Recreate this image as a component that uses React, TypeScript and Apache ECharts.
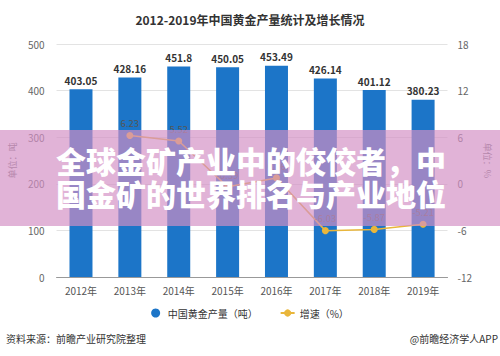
import React, { useEffect, useRef } from "react";
import * as echarts from "echarts";

const years = ["2012年", "2013年", "2014年", "2015年", "2016年", "2017年", "2018年", "2019年"];
const production = [403.05, 428.16, 451.8, 450.05, 453.49, 426.14, 401.12, 380.23];
const growth: (number | null)[] = [null, 6.23, 5.52, -0.39, 0.76, -6.03, -5.87, -5.21];

const titleText = "2012-2019年中国黄金产量统计及增长情况";
const seriesNames = ["中国黄金产量（吨）", "增速（%）"];
const bannerLines = ["全球金矿产业中的佼佼者，中", "国金矿的世界排名与产业地位"];
const sourceText = "资料来源：前瞻产业研究院整理";
const brandText = "@前瞻经济学人APP";

const FONT = "'Noto Sans CJK SC', 'Noto Sans', sans-serif";

export default function App() {
  const ref = useRef<HTMLDivElement>(null);
  useEffect(() => {
    if (!ref.current) return;
    const chart = echarts.init(ref.current, undefined, { renderer: "svg" });
    chart.setOption({
      animation: false,
      backgroundColor: "#ffffff",
      textStyle: { fontFamily: FONT },
      title: {
        text: titleText,
        left: "center",
        top: 8,
        textStyle: { fontSize: 12, fontWeight: "bold", color: "#333", fontFamily: FONT },
      },
      legend: {
        bottom: 33,
        left: "center",
        itemWidth: 14,
        itemHeight: 9,
        itemGap: 22,
        textStyle: { fontSize: 10, color: "#333", fontFamily: FONT },
        data: [
          { name: seriesNames[0], icon: "circle" },
          { name: seriesNames[1] },
        ],
      },
      grid: { left: 52, right: 46, top: 44, bottom: 79 },
      xAxis: {
        type: "category",
        data: years,
        axisLine: { lineStyle: { color: "#999" } },
        axisTick: { alignWithLabel: true, length: 3, lineStyle: { color: "#999" } },
        axisLabel: { color: "#555", fontSize: 10, margin: 8, fontFamily: FONT },
      },
      yAxis: [
        {
          type: "value",
          min: 0,
          max: 500,
          interval: 100,
          name: "单位：吨",
          nameLocation: "middle",
          nameRotate: 90,
          nameGap: 38,
          nameTextStyle: { color: "#777", fontSize: 9, fontFamily: FONT },
          axisLine: { show: false },
          axisTick: { show: false },
          axisLabel: { color: "#666", fontSize: 10, margin: 12 },
          splitLine: { lineStyle: { color: "#e3e3e3" } },
        },
        {
          type: "value",
          min: -12,
          max: 18,
          interval: 6,
          name: "单位：%",
          nameLocation: "middle",
          nameRotate: -90,
          nameGap: 32,
          nameTextStyle: { color: "#777", fontSize: 9, fontFamily: FONT },
          axisLine: { show: false },
          axisTick: { show: false },
          axisLabel: { color: "#666", fontSize: 10, margin: 10 },
          splitLine: { show: false },
        },
      ],
      series: [
        {
          name: seriesNames[0],
          type: "bar",
          data: production,
          barWidth: 23,
          itemStyle: { color: "#1c75c8" },
          label: {
            show: true,
            position: "top",
            distance: 4,
            fontSize: 10,
            fontWeight: "bold",
            color: "#333",
            fontFamily: FONT,
          },
        },
        {
          name: seriesNames[1],
          type: "line",
          yAxisIndex: 1,
          data: growth,
          symbol: "circle",
          symbolSize: 7,
          lineStyle: { color: "#e9b63b", width: 1.5 },
          itemStyle: { color: "#e9b63b" },
          label: {
            show: true,
            position: "top",
            distance: 4,
            fontSize: 9.5,
            color: "#555",
            fontFamily: FONT,
          },
        },
      ],
      graphic: [
        {
          type: "rect",
          z: 100,
          shape: { x: 0, y: 130, width: 500, height: 96 },
          style: { fill: "rgba(211,143,196,0.68)" },
        },
        {
          type: "text",
          z: 101,
          x: 251,
          y: 160,
          style: {
            text: bannerLines[0],
            fill: "#ffffff",
            font: "900 30px " + FONT,
            textAlign: "center",
            textVerticalAlign: "middle",
          },
        },
        {
          type: "text",
          z: 101,
          x: 251,
          y: 193,
          style: {
            text: bannerLines[1],
            fill: "#ffffff",
            font: "900 30px " + FONT,
            textAlign: "center",
            textVerticalAlign: "middle",
          },
        },
        {
          type: "text",
          z: 50,
          left: 6,
          top: 333,
          style: { text: sourceText, fill: "#333", font: "10px " + FONT },
        },
        {
          type: "text",
          z: 50,
          right: 2,
          top: 333,
          style: { text: brandText, fill: "#333", font: "10px " + FONT },
        },
      ],
    });
    return () => chart.dispose();
  }, []);
  return <div ref={ref} style={{ width: 500, height: 356, position: "absolute", left: 0, top: 0 }} />;
}
